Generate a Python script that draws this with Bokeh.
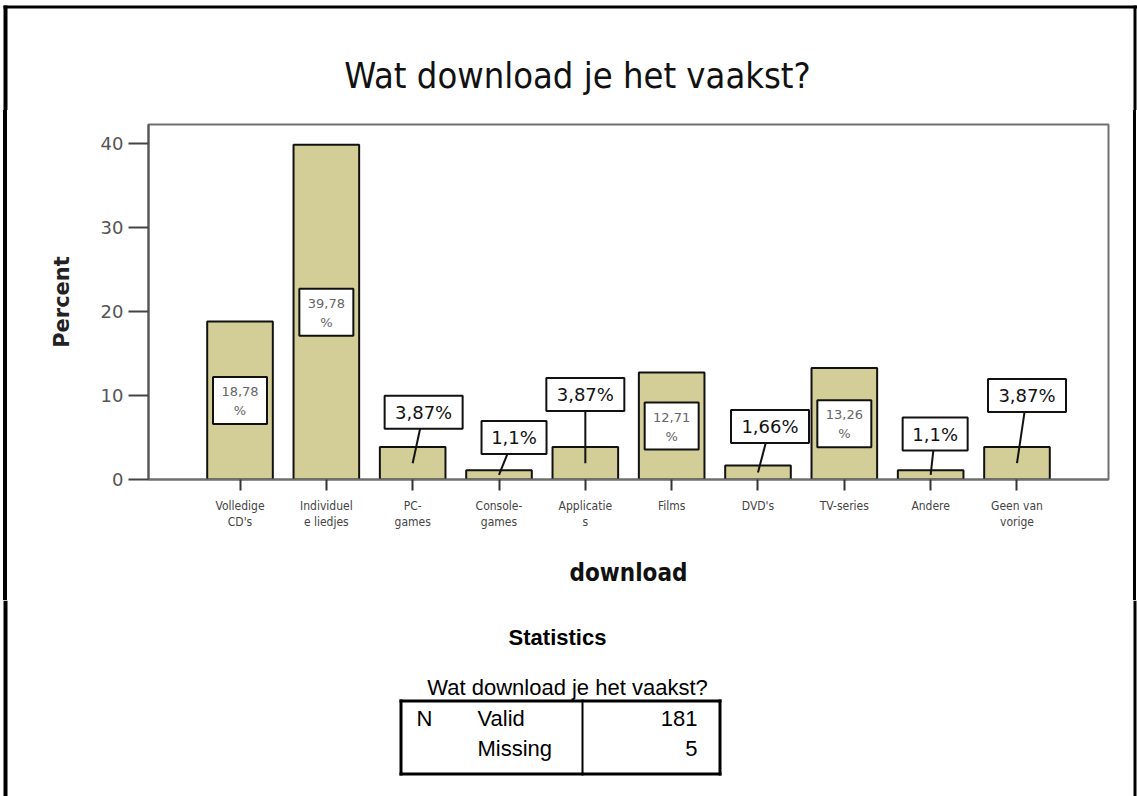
from bokeh.plotting import figure
from bokeh.layouts import column, row
from bokeh.models import FactorRange, Range1d, FixedTicker, ColumnDataSource, Div
from bokeh.core.properties import value
from bokeh.embed import file_html
from bokeh.resources import INLINE

# ---- data -------------------------------------------------------------
categories = ["Volledige CD's", "Individuele liedjes", "PC-games", "Console-games",
              "Applicaties", "Films", "DVD's", "TV-series", "Andere", "Geen van vorige"]
tick_labels = ["Volledige\nCD's", "Individuel\ne liedjes", "PC-\ngames", "Console-\ngames",
               "Applicatie\ns", "Films", "DVD's", "TV-series", "Andere", "Geen van\nvorige"]
percent = [18.78, 39.78, 3.87, 1.1, 3.87, 12.71, 1.66, 13.26, 1.1, 3.87]
y_ticks = [0, 10, 20, 30, 40]
n_valid = 181
n_missing = 5

# ---- page geometry (canvas pixels) -----------------------------------
W, H = 1137, 796
TOP_H = 110            # band holding the chart title
MID_H = 490            # band holding the bar chart
BOT_H = H - TOP_H - MID_H
STRIP = 8              # side strips that carry the page frame
FL, FR, FT, FB = 148, 1108, 124, 479      # plot frame edges on the page
SANS = "DejaVu Sans"
NARROW = "Liberation Sans Narrow, DejaVu Sans Condensed, sans-serif"
ARIAL = "Liberation Sans"
INK = "#111111"

# callout boxes for the short bars: (x shift in category units, box centre in percent)
callout = {"PC-games": (0.127, 8.0), "Console-games": (0.174, 5.0), "Applicaties": (0.0, 10.1),
           "DVD's": (0.139, 6.3), "Andere": (0.052, 5.4), "Geen van vorige": (0.116, 10.0)}
factor_of = dict(zip(categories, tick_labels))


def pct_text(v):
    return f"{v:g}".replace(".", ",")


def canvas(w, h):
    """A plain drawing surface whose data units are pixels, y growing downwards."""
    c = figure(width=w, height=h, x_range=Range1d(0, w), y_range=Range1d(h, 0),
               x_axis_type=None, y_axis_type=None, min_border=0,
               output_backend="svg", toolbar_location=None)
    c.grid.visible = False
    c.outline_line_color = None
    c.background_fill_color = "white"
    c.border_fill_color = "white"
    return c


def bar(c, l, t, r, b):
    c.quad(left=[l], right=[r], top=[t], bottom=[b], fill_color="black", line_color=None)


def strip(x0, x1):
    """Narrow white column with a black vertical rule from x0 to x1."""
    return Div(width=STRIP, height=MID_H, margin=0, text="",
               styles={"background": f"linear-gradient(to right, white 0px, white {x0}px, "
                                     f"black {x0}px, black {x1}px, white {x1}px, white {STRIP}px)"})


# ---- title band -------------------------------------------------------
top = canvas(W, TOP_H)
top.text(x=[577], y=[75], text=["Wat download je het vaakst?"], text_align="center",
         text_baseline="middle", text_font=value(NARROW), text_font_size="36px", text_color=INK)
bar(top, 3, 5, W, 8)
bar(top, 3, 5, 7, TOP_H)
bar(top, 1133, 5, 1136, TOP_H)

# ---- bar chart --------------------------------------------------------
p = figure(width=W - 2 * STRIP, height=MID_H,
           x_range=FactorRange(*tick_labels, range_padding=0.112, range_padding_units="percent"),
           y_range=Range1d(0, 42.2),
           output_backend="svg", toolbar_location=None,
           min_border_left=FL - STRIP, min_border_right=(W - STRIP) - FR,
           min_border_top=FT - TOP_H, min_border_bottom=TOP_H + MID_H - FB)
p.xgrid.grid_line_color = None
p.ygrid.grid_line_color = None
p.outline_line_color = "#707070"
p.outline_line_width = 2
p.background_fill_color = "white"
p.border_fill_color = "white"

src = ColumnDataSource(dict(cat=[factor_of[c] for c in categories], pct=percent))
p.vbar(x="cat", top="pct", width=0.76, source=src,
       fill_color="#d3ce97", line_color=INK, line_width=2)

# value boxes inside the tall bars
inner = [i for i, c in enumerate(categories) if c not in callout]
in_src = ColumnDataSource(dict(
    cat=[factor_of[categories[i]] for i in inner],
    mid=[percent[i] / 2 for i in inner],
    num=[pct_text(percent[i]) for i in inner],
    sign=["%" for _ in inner]))
p.rect(x="cat", y="mid", width=54, height=47, width_units="screen", height_units="screen",
       source=in_src, fill_color="white", line_color=INK, line_width=2)
p.text(x="cat", y="mid", text="num", source=in_src, y_offset=-9,
       text_align="center", text_baseline="middle", text_color="#666666",
       text_font=value(SANS), text_font_size="13px")
p.text(x="cat", y="mid", text="sign", source=in_src, y_offset=10,
       text_align="center", text_baseline="middle", text_color="#666666",
       text_font=value(SANS), text_font_size="13px")

# callout boxes above the short bars, with a leader line into the bar
outer = [i for i, c in enumerate(categories) if c in callout]
out_src = ColumnDataSource(dict(
    bx=[i + 0.5 + callout[categories[i]][0] for i in outer],
    by=[callout[categories[i]][1] for i in outer],
    cx=[i + 0.5 for i in outer],
    mid=[percent[i] / 2 for i in outer],
    w=[78 if len(pct_text(percent[i])) > 3 else 65 for i in outer],
    txt=[pct_text(percent[i]) + "%" for i in outer]))
p.segment(x0="bx", y0="by", x1="cx", y1="mid", source=out_src, line_color=INK, line_width=2)
p.rect(x="bx", y="by", width="w", height=33, width_units="screen", height_units="screen",
       source=out_src, fill_color="white", line_color=INK, line_width=2)
p.text(x="bx", y="by", text="txt", source=out_src,
       text_align="center", text_baseline="middle", text_color=INK,
       text_font=value(SANS), text_font_size="18px")

ya = p.yaxis[0]
ya.ticker = FixedTicker(ticks=y_ticks, minor_ticks=[])
ya.axis_line_color = "#555555"
ya.axis_line_width = 2
ya.major_tick_in = 0
ya.major_tick_out = 20
ya.major_tick_line_width = 2
ya.major_tick_line_color = "#444444"
ya.minor_tick_line_color = None
ya.major_label_text_font = SANS
ya.major_label_text_font_size = "18px"
ya.major_label_text_color = "#555555"
ya.major_label_standoff = 5
ya.axis_label = "Percent"
ya.axis_label_text_font = SANS
ya.axis_label_text_font_style = "bold"
ya.axis_label_text_font_size = "21px"
ya.axis_label_text_color = "#222222"
ya.axis_label_standoff = 24

xa = p.xaxis[0]
xa.axis_line_color = "#707070"
xa.axis_line_width = 2
xa.major_tick_in = 0
xa.major_tick_out = 11
xa.major_tick_line_width = 2
xa.major_tick_line_color = "#333333"
xa.major_label_text_font = NARROW
xa.major_label_text_font_size = "12px"
xa.major_label_text_color = "#444444"
xa.major_label_standoff = 8
xa.axis_label = "download"
xa.axis_label_text_font = NARROW
xa.axis_label_text_font_style = "bold"
xa.axis_label_text_font_size = "24px"
xa.axis_label_text_color = INK
xa.axis_label_standoff = 27

# ---- statistics table band -------------------------------------------
bot = canvas(W, BOT_H)
Y0 = TOP_H + MID_H


def words(x, y, s, align="center", style="normal"):
    bot.text(x=[x], y=[y - Y0], text=[s], text_align=align, text_baseline="middle",
             text_font=value(ARIAL), text_font_size="22px", text_font_style=style,
             text_color="black")


words(557, 637, "Statistics", style="bold")
words(567, 687, "Wat download je het vaakst?")
words(416, 718, "N", align="left")
words(477, 718, "Valid", align="left")
words(477, 748, "Missing", align="left")
words(697, 718, str(n_valid), align="right")
words(697, 748, str(n_missing), align="right")
bar(bot, 399, 699 - Y0, 721, 702 - Y0)
bar(bot, 399, 772 - Y0, 721, 775 - Y0)
bar(bot, 399, 699 - Y0, 402, 775 - Y0)
bar(bot, 718, 699 - Y0, 721, 775 - Y0)
bar(bot, 581, 699 - Y0, 583, 775 - Y0)
bar(bot, 3, 0, 7, BOT_H)
bar(bot, 1133, 0, 1136, BOT_H)

page = column(top, row(strip(3, 7), p, strip(1133 - (W - STRIP), 1136 - (W - STRIP)), spacing=0),
              bot, spacing=0)
open("out.html", "w").write(file_html(page, INLINE))
